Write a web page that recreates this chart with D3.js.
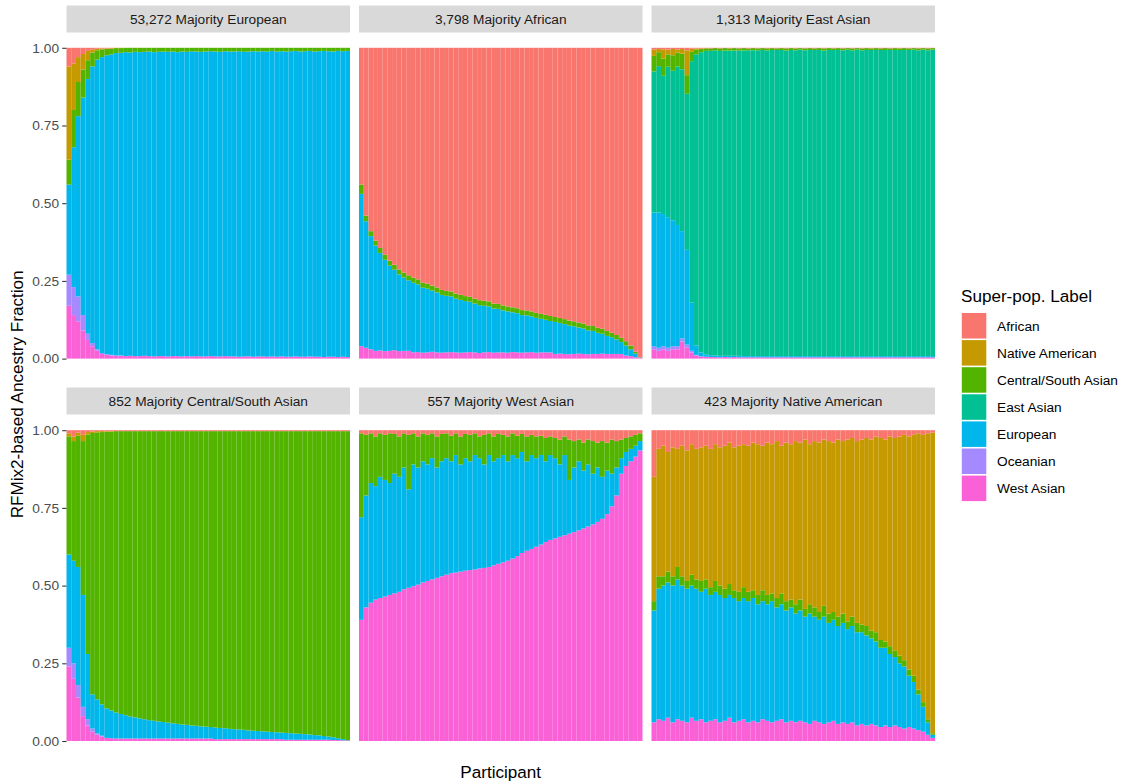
<!DOCTYPE html>
<html>
<head>
<meta charset="utf-8">
<script src="https://cdn.jsdelivr.net/npm/d3@7"></script>
<style>
  html, body { margin: 0; padding: 0; background: #ffffff; }
  svg { display: block; font-family: "Liberation Sans", Arial, Helvetica, sans-serif; }
</style>
</head>
<body>
<svg id="chart" width="1125" height="784"></svg>
<script>
// Ancestry super-population labels (legend order, also top-to-bottom stacking order)
const categories = ["African", "Native American", "Central/South Asian", "East Asian", "European", "Oceanian", "West Asian"];
const categoryColors = ["#F8766D", "#C49A00", "#53B400", "#00C094", "#00B6EB", "#A58AFF", "#FB61D7"];
const panelTitles = ["53,272 Majority European", "3,798 Majority African", "1,313 Majority East Asian",
                     "852 Majority Central/South Asian", "557 Majority West Asian", "423 Majority Native American"];
const panelMajority = ["European", "African", "East Asian", "Central/South Asian", "West Asian", "Native American"];
const yTickValues = [0, 0.25, 0.5, 0.75, 1];

// ---- Majority European: minor ancestry fractions per participant (majority share is the remainder)
const eurAFR = [0.06,0.05,0.03,0.02,0.01,0.005,0.003,0.002,0.002,0.001, 0,0,0,0,0,0,0,0,0,0, 0,0,0,0,0,0,0,0,0,0, 0,0,0,0,0,0,0,0,0,0, 0,0,0,0,0,0,0,0,0,0, 0,0,0,0,0,0,0,0,0,0];
const eurNAT = [0.30,0.15,0.08,0.05,0.03,0.01,0.005,0.003,0.002,0.002, 0.001,0.001,0,0,0,0,0,0,0,0, 0,0,0,0,0,0,0,0,0,0, 0,0,0,0,0,0,0,0,0,0, 0,0,0,0,0,0,0,0,0,0, 0,0,0,0,0,0,0,0,0,0];
const eurCSA = [0.08,0.12,0.11,0.09,0.06,0.045,0.03,0.025,0.02,0.018, 0.016,0.015,0.014,0.015,0.013,0.014,0.013,0.012,0.014,0.013, 0.012,0.013,0.012,0.014,0.012,0.013,0.011,0.012,0.013,0.012, 0.011,0.012,0.013,0.011,0.012,0.012,0.011,0.013,0.012,0.011, 0.012,0.011,0.012,0.010,0.012,0.011,0.012,0.011,0.010,0.012, 0.011,0.010,0.012,0.011,0.010,0.011,0.012,0.010,0.011,0.010];
const eurOCE = [0.10,0.09,0.08,0.05,0.02,0.01,0.005,0.003,0.002,0.002, 0.001,0.001,0,0,0,0,0,0,0,0, 0,0,0,0,0,0,0,0,0,0, 0,0,0,0,0,0,0,0,0,0, 0,0,0,0,0,0,0,0,0,0, 0,0,0,0,0,0,0,0,0,0];
const eurWAS = [0.17,0.14,0.12,0.09,0.06,0.04,0.025,0.015,0.012,0.010, 0.009,0.009,0.008,0.009,0.008,0.008,0.009,0.008,0.007,0.008, 0.008,0.007,0.008,0.008,0.007,0.008,0.007,0.008,0.007,0.007, 0.008,0.007,0.007,0.008,0.007,0.007,0.006,0.007,0.007,0.006, 0.007,0.007,0.006,0.007,0.006,0.007,0.006,0.006,0.007,0.006, 0.006,0.007,0.006,0.006,0.005,0.006,0.006,0.005,0.006,0.005];

// ---- Majority African
const afrCSA = [0.03,0.018,0.016,0.016,0.016,0.016,0.016,0.016,0.016,0.016, 0.016,0.016,0.016,0.016,0.016,0.016,0.016,0.016,0.016,0.016, 0.016,0.016,0.016,0.016,0.016,0.016,0.016,0.016,0.016,0.016, 0.016,0.016,0.016,0.016,0.016,0.016,0.016,0.016,0.016,0.016, 0.016,0.016,0.016,0.016,0.016,0.016,0.016,0.016,0.016,0.016, 0.016,0.016,0.016,0.014,0.014,0.014,0.014,0.012,0.006,0.001];
const afrEUR = [0.49,0.407,0.364,0.339,0.314,0.294,0.274,0.259,0.247,0.236, 0.227,0.224,0.218,0.209,0.205,0.197,0.193,0.186,0.182,0.179, 0.173,0.170,0.165,0.162,0.157,0.154,0.150,0.147,0.142,0.140, 0.135,0.133,0.128,0.126,0.121,0.119,0.115,0.112,0.108,0.105, 0.101,0.103,0.099,0.096,0.092,0.089,0.084,0.082,0.077,0.074, 0.068,0.064,0.058,0.054,0.047,0.038,0.032,0.022,0.012,0.001];
const afrWAS = [0.04,0.035,0.03,0.025,0.026,0.024,0.025,0.027,0.024,0.025, 0.025,0.02,0.021,0.019,0.02,0.022,0.02,0.019,0.02,0.021, 0.02,0.019,0.02,0.021,0.02,0.018,0.02,0.021,0.019,0.02, 0.02,0.019,0.021,0.02,0.019,0.02,0.021,0.019,0.02,0.02, 0.02,0.015,0.016,0.015,0.014,0.015,0.016,0.015,0.014,0.015, 0.015,0.016,0.015,0.015,0.015,0.015,0.01,0.008,0.004,0.002];

// ---- Majority East Asian
const easAFR = [0.006,0.004,0.005,0.006,0.004,0.005,0.004,0.008,0.003,0.002, 0.002,0.001,0.002,0.001,0.002,0.001,0.002,0.001,0.002,0.001, 0.002,0.001,0.002,0.001,0.002,0.001,0.002,0.001,0.002,0.001, 0.002,0.001,0.002,0.001,0.002,0.001,0.002,0.001,0.002,0.001, 0.002,0.001,0.002,0.001,0.002,0.001,0.002,0.001,0.002,0.001, 0.002,0.001,0.002,0.001,0.002,0.001,0.002,0.001,0.002,0.001];
const easNAT = [0.02,0.01,0.03,0.015,0.02,0.01,0.015,0.08,0.01,0.004, 0.002,0.001,0,0,0,0,0,0,0,0, 0,0,0,0,0,0,0,0,0,0, 0,0,0,0,0,0,0,0,0,0, 0,0,0,0,0,0,0,0,0,0, 0,0,0,0,0,0,0,0,0,0];
const easCSA = [0.05,0.045,0.055,0.04,0.05,0.045,0.05,0.06,0.03,0.015, 0.01,0.008,0.008,0.007,0.008,0.008,0.007,0.008,0.007,0.008, 0.006,0.007,0.006,0.006,0.007,0.006,0.005,0.006,0.007,0.006, 0.006,0.005,0.006,0.006,0.005,0.006,0.007,0.006,0.005,0.006, 0.006,0.005,0.006,0.005,0.006,0.006,0.005,0.006,0.005,0.006, 0.005,0.006,0.005,0.006,0.005,0.005,0.006,0.005,0.006,0.005];
const easEUR = [0.43,0.435,0.425,0.42,0.405,0.39,0.345,0.305,0.155,0.03, 0.013,0.008,0.006,0.005,0.005,0.004,0.005,0.004,0.005,0.004, 0.004,0.004,0.004,0.004,0.004,0.004,0.004,0.004,0.004,0.004, 0.004,0.004,0.004,0.004,0.004,0.004,0.004,0.004,0.004,0.004, 0.004,0.004,0.004,0.004,0.004,0.004,0.004,0.004,0.004,0.004, 0.004,0.004,0.004,0.004,0.004,0.004,0.004,0.004,0.004,0.004];
const easOCE = [0.01,0.01,0.01,0.01,0.01,0.01,0.01,0.01,0.005,0.002, 0,0,0,0,0,0,0,0,0,0, 0,0,0,0,0,0,0,0,0,0, 0,0,0,0,0,0,0,0,0,0, 0,0,0,0,0,0,0,0,0,0, 0,0,0,0,0,0,0,0,0,0];
const easWAS = [0.03,0.025,0.03,0.025,0.03,0.03,0.055,0.035,0.02,0.01, 0.007,0.006,0.005,0.005,0.004,0.005,0.004,0.005,0.004,0.004, 0.004,0.004,0.004,0.004,0.004,0.004,0.004,0.004,0.004,0.004, 0.004,0.004,0.004,0.004,0.004,0.004,0.004,0.004,0.004,0.004, 0.004,0.004,0.004,0.004,0.004,0.004,0.004,0.004,0.004,0.004, 0.004,0.004,0.004,0.004,0.004,0.004,0.004,0.004,0.004,0.004];

// ---- Majority Central/South Asian
const csaAFR = [0.01,0.02,0.008,0.015,0.006,0.004,0.003,0.003,0.003,0.003, 0.003,0.003,0.003,0.003,0.003,0.003,0.003,0.003,0.003,0.003, 0.003,0.003,0.003,0.003,0.003,0.003,0.003,0.003,0.003,0.003, 0.003,0.003,0.003,0.003,0.003,0.003,0.003,0.003,0.003,0.003, 0.003,0.003,0.003,0.003,0.003,0.003,0.003,0.003,0.003,0.003, 0.003,0.003,0.003,0.003,0.003,0.003,0.003,0.003,0.003,0.003];
const csaNAT = [0.01,0.015,0.01,0.02,0.008,0.005,0.004,0.003,0.002,0.002, 0,0,0,0,0,0,0,0,0,0, 0,0,0,0,0,0,0,0,0,0, 0,0,0,0,0,0,0,0,0,0, 0,0,0,0,0,0,0,0,0,0, 0,0,0,0,0,0,0,0,0,0];
const csaEUR = [0.30,0.33,0.38,0.36,0.21,0.11,0.11,0.101,0.095,0.089, 0.084,0.079,0.075,0.071,0.068,0.065,0.062,0.059,0.057,0.055, 0.053,0.051,0.049,0.047,0.045,0.044,0.042,0.041,0.039,0.038, 0.037,0.037,0.036,0.035,0.033,0.032,0.031,0.030,0.028,0.027, 0.026,0.025,0.024,0.023,0.022,0.021,0.022,0.021,0.020,0.019, 0.018,0.017,0.015,0.014,0.012,0.010,0.009,0.006,0.004,0.001];
const csaOCE = [0.06,0.05,0.04,0.03,0.02,0.01,0.004,0.002,0,0, 0,0,0,0,0,0,0,0,0,0, 0,0,0,0,0,0,0,0,0,0, 0,0,0,0,0,0,0,0,0,0, 0,0,0,0,0,0,0,0,0,0, 0,0,0,0,0,0,0,0,0,0];
const csaWAS = [0.24,0.20,0.14,0.08,0.05,0.03,0.02,0.015,0.01,0.009, 0.008,0.008,0.008,0.008,0.008,0.008,0.008,0.008,0.008,0.008, 0.008,0.008,0.008,0.008,0.008,0.008,0.008,0.008,0.008,0.008, 0.008,0.006,0.006,0.006,0.006,0.006,0.006,0.006,0.006,0.006, 0.006,0.006,0.006,0.006,0.006,0.006,0.004,0.004,0.004,0.004, 0.004,0.004,0.004,0.004,0.004,0.004,0.003,0.003,0.002,0.002];

// ---- Majority West Asian
const wasAFR = [0.01,0.015,0.01,0.02,0.01,0.015,0.01,0.012,0.02,0.01, 0.015,0.01,0.02,0.01,0.015,0.01,0.02,0.012,0.01,0.018, 0.01,0.02,0.012,0.015,0.01,0.02,0.015,0.01,0.02,0.012, 0.015,0.02,0.01,0.018,0.012,0.02,0.015,0.02,0.018,0.025, 0.02,0.025,0.03,0.02,0.03,0.035,0.03,0.04,0.03,0.035, 0.04,0.035,0.04,0.03,0.035,0.03,0.025,0.02,0.015,0.01];
const wasCSA = [0.27,0.195,0.16,0.16,0.14,0.145,0.16,0.128,0.13,0.11, 0.175,0.10,0.10,0.09,0.095,0.08,0.10,0.088,0.08,0.082, 0.07,0.09,0.078,0.085,0.07,0.07,0.095,0.07,0.08,0.078, 0.065,0.08,0.07,0.072,0.058,0.08,0.065,0.07,0.062,0.075, 0.06,0.065,0.08,0.06,0.13,0.085,0.07,0.09,0.08,0.105, 0.08,0.115,0.09,0.11,0.085,0.06,0.045,0.04,0.035,0.025];
const wasEUR = [0.33,0.36,0.385,0.365,0.39,0.375,0.36,0.385,0.37,0.392, 0.317,0.392,0.377,0.39,0.375,0.39,0.355,0.37,0.375,0.36, 0.378,0.345,0.362,0.35,0.368,0.355,0.333,0.36,0.335,0.34, 0.345,0.32,0.333,0.315,0.325,0.288,0.302,0.285,0.288,0.26, 0.273,0.258,0.233,0.258,0.173,0.208,0.222,0.186,0.20,0.163, 0.175,0.135,0.14,0.105,0.09,0.05,0.045,0.04,0.035,0.03];

// ---- Majority Native American
const natAFR = [0.15,0.06,0.05,0.07,0.055,0.06,0.05,0.065,0.045,0.06, 0.055,0.05,0.06,0.045,0.055,0.05,0.04,0.055,0.05,0.045, 0.05,0.04,0.045,0.05,0.04,0.045,0.035,0.05,0.04,0.045, 0.035,0.04,0.03,0.045,0.035,0.04,0.03,0.035,0.04,0.03, 0.035,0.03,0.025,0.035,0.03,0.025,0.03,0.02,0.025,0.03, 0.02,0.025,0.02,0.015,0.02,0.015,0.01,0.015,0.01,0.008];
const natCSA = [0.03,0.04,0.03,0.035,0.03,0.04,0.03,0.025,0.035,0.03, 0.035,0.03,0.025,0.035,0.03,0.03,0.035,0.025,0.03,0.035, 0.03,0.025,0.03,0.035,0.03,0.025,0.03,0.035,0.03,0.025, 0.03,0.035,0.025,0.03,0.03,0.025,0.035,0.03,0.025,0.03, 0.03,0.025,0.03,0.03,0.025,0.03,0.025,0.03,0.025,0.02, 0.025,0.02,0.025,0.02,0.02,0.02,0.015,0.015,0.01,0.005];
const natEUR = [0.36,0.42,0.435,0.435,0.44,0.45,0.435,0.43,0.425,0.425, 0.41,0.43,0.405,0.41,0.41,0.395,0.395,0.40,0.385,0.39, 0.39,0.395,0.38,0.38,0.375,0.39,0.365,0.37,0.36,0.365, 0.35,0.355,0.34,0.355,0.335,0.33,0.345,0.32,0.325,0.315, 0.32,0.305,0.31,0.30,0.295,0.29,0.275,0.27,0.255,0.25, 0.235,0.22,0.205,0.20,0.165,0.15,0.115,0.08,0.04,0.01];
const natWAS = [0.06,0.07,0.065,0.075,0.06,0.07,0.065,0.06,0.075,0.065, 0.07,0.06,0.065,0.07,0.06,0.065,0.075,0.06,0.065,0.07, 0.06,0.065,0.06,0.07,0.065,0.06,0.065,0.07,0.06,0.065, 0.06,0.065,0.06,0.055,0.065,0.06,0.055,0.06,0.065,0.055, 0.06,0.055,0.06,0.05,0.055,0.05,0.055,0.05,0.045,0.05, 0.045,0.05,0.045,0.04,0.045,0.04,0.035,0.03,0.02,0.01];

// Minor components for each panel, keyed by label; the panel's majority fills the rest of each bar
const panelParts = [
  { "African": eurAFR, "Native American": eurNAT, "Central/South Asian": eurCSA, "Oceanian": eurOCE, "West Asian": eurWAS },
  { "Central/South Asian": afrCSA, "European": afrEUR, "West Asian": afrWAS },
  { "African": easAFR, "Native American": easNAT, "Central/South Asian": easCSA, "European": easEUR, "Oceanian": easOCE, "West Asian": easWAS },
  { "African": csaAFR, "Native American": csaNAT, "European": csaEUR, "Oceanian": csaOCE, "West Asian": csaWAS },
  { "African": wasAFR, "Central/South Asian": wasCSA, "European": wasEUR },
  { "African": natAFR, "Central/South Asian": natCSA, "European": natEUR, "West Asian": natWAS }
];

function buildRows(parts, majority) {
  const n = Object.values(parts)[0].length;
  return d3.range(n).map(i => {
    const row = { id: i };
    let used = 0;
    categories.forEach(c => {
      if (c !== majority) {
        const v = parts[c] ? parts[c][i] : 0;
        row[c] = v;
        used += v;
      }
    });
    row[majority] = Math.max(0, 1 - used);
    return row;
  });
}

// ---- layout
const svg = d3.select("#chart");
const color = d3.scaleOrdinal().domain(categories).range(categoryColors);
const colLeft = [66.5, 359, 651.5];
const panelW = 283.5;
const rowTop = [47.8, 430.2];
const panelH = 310.8;
const stripTop = [5.5, 387.5];
const stripH = 27;
const smallFont = 13.7;
const titleFont = 17.1;

// Bottom-to-top stacking keys (West Asian at the base, African on top)
const stackKeys = categories.slice().reverse();
const stack = d3.stack().keys(stackKeys);

panelTitles.forEach((title, p) => {
  const col = p % 3, row = Math.floor(p / 3);
  const x0 = colLeft[col], y0 = rowTop[row];
  const rows = buildRows(panelParts[p], panelMajority[p]);

  const x = d3.scaleBand().domain(rows.map(d => d.id)).range([0, panelW]).padding(0);
  const y = d3.scaleLinear().domain([0, 1]).range([panelH, 0]);

  // strip
  svg.append("rect")
    .attr("x", x0).attr("y", stripTop[row])
    .attr("width", panelW).attr("height", stripH)
    .attr("fill", "#D9D9D9");
  svg.append("text")
    .attr("x", x0 + panelW / 2).attr("y", stripTop[row] + stripH / 2)
    .attr("dy", "0.35em")
    .attr("text-anchor", "middle")
    .attr("font-size", smallFont)
    .attr("fill", "#1A1A1A")
    .text(title);

  const g = svg.append("g").attr("transform", `translate(${x0},${y0})`);
  const series = stack(rows);
  g.selectAll("g.layer").data(series).join("g")
    .attr("class", "layer")
    .attr("fill", s => color(s.key))
    .selectAll("rect").data(s => s).join("rect")
      .attr("x", d => x(d.data.id))
      .attr("width", x.bandwidth())
      .attr("y", d => y(d[1]))
      .attr("height", d => Math.max(0, y(d[0]) - y(d[1])));

  if (col === 0) {
    const axis = d3.axisLeft(y).tickValues(yTickValues)
      .tickFormat(d3.format(".2f")).tickSize(4.3).tickPadding(3.2);
    const ag = g.append("g").call(axis);
    ag.select(".domain").remove();
    ag.selectAll(".tick line").attr("stroke", "#333333").attr("stroke-width", 1.07);
    ag.selectAll(".tick text").attr("fill", "#4D4D4D").attr("font-size", smallFont)
      .attr("font-family", "Liberation Sans, Arial, sans-serif");
  }
});

// axis titles
svg.append("text")
  .attr("transform", `translate(23,${(rowTop[0] + rowTop[1] + panelH) / 2}) rotate(-90)`)
  .attr("text-anchor", "middle")
  .attr("font-size", titleFont)
  .attr("fill", "#000")
  .text("RFMix2-based Ancestry Fraction");

svg.append("text")
  .attr("x", (colLeft[0] + colLeft[2] + panelW) / 2)
  .attr("y", 778)
  .attr("text-anchor", "middle")
  .attr("font-size", titleFont)
  .attr("fill", "#000")
  .text("Participant");

// legend
const legend = svg.append("g").attr("transform", "translate(961,0)");
legend.append("text")
  .attr("x", 0).attr("y", 302)
  .attr("font-size", titleFont)
  .attr("fill", "#000")
  .text("Super-pop. Label");
const items = legend.selectAll("g.item").data(categories).join("g")
  .attr("class", "item")
  .attr("transform", (d, i) => `translate(0,${312.5 + i * 27.1})`);
items.append("rect")
  .attr("x", 0.8).attr("y", 0.5)
  .attr("width", 24.5).attr("height", 25.5)
  .attr("fill", d => color(d));
items.append("text")
  .attr("x", 36).attr("y", 13.3)
  .attr("dy", "0.35em")
  .attr("font-size", smallFont)
  .attr("fill", "#000")
  .text(d => d);
</script>
</body>
</html>
